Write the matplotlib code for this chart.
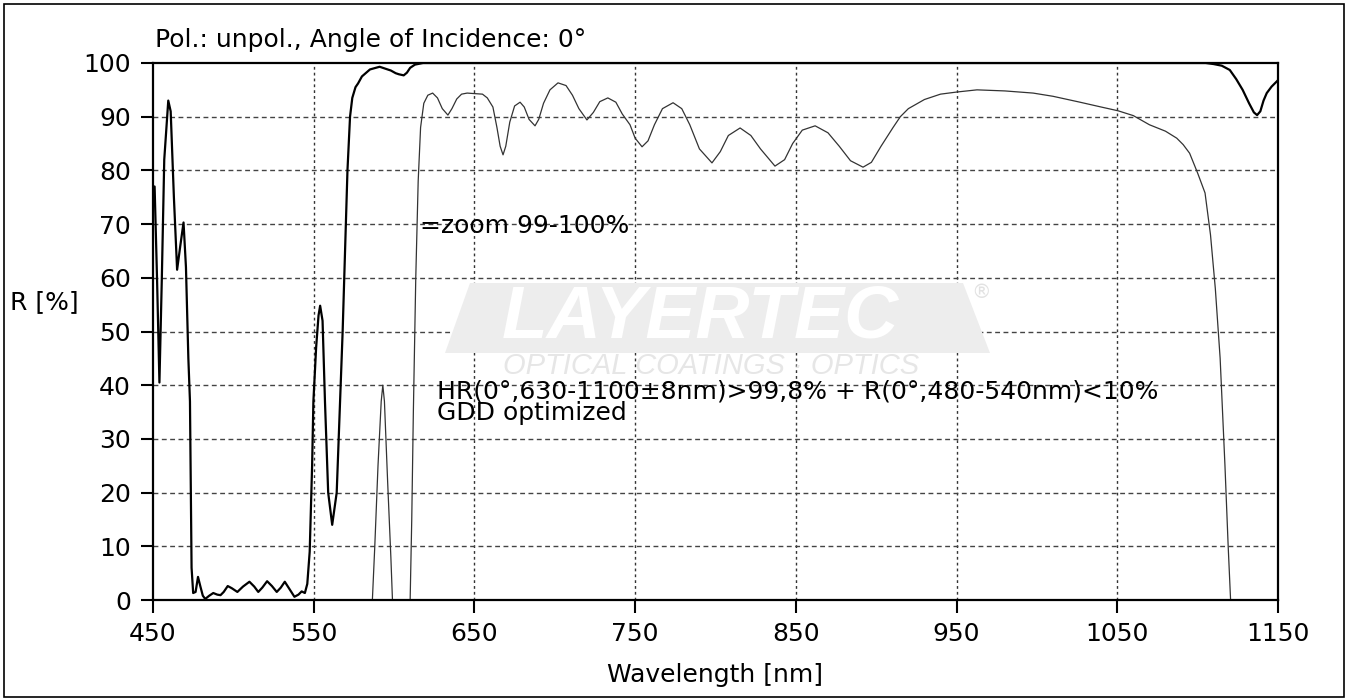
import matplotlib
matplotlib.use("Agg")
import matplotlib.pyplot as plt
from matplotlib.patches import Polygon, Rectangle

# ---------------- data ----------------
wl_main = [450, 451, 452.5, 454, 455.5, 457, 459.5, 461, 463, 465, 467, 469, 470.5, 472, 473, 474, 475,
           476.5, 478, 479.5, 481, 482.5, 485, 487.5, 490, 492, 494, 496.5, 499, 502.5, 506, 510, 513,
           515.5, 518, 521, 524, 527, 529.5, 532, 535, 538, 540.5, 542.5, 544.5, 546, 547.5, 549, 549.8,
           551.5, 553, 554, 555.5, 557, 559, 561.5, 564.3, 566.4, 568, 569.5, 571, 572.6, 574, 576, 577.6,
           580, 585, 591, 596, 598, 601, 603, 606, 608, 610, 613, 618, 1105, 1110, 1115, 1120, 1124, 1128,
           1132, 1135, 1137, 1139, 1141, 1143, 1146, 1150]
r_main = [77, 77, 60, 40.5, 60, 82, 93, 91, 75, 61.5, 66, 70.3, 62, 45, 37, 6, 1.3,
          1.5, 4.3, 2.5, 0.8, 0.2, 0.8, 1.3, 1.0, 0.9, 1.5, 2.6, 2.2, 1.5, 2.5, 3.4, 2.5,
          1.5, 2.3, 3.5, 2.6, 1.5, 2.3, 3.4, 2.0, 0.6, 1.0, 1.6, 1.3, 3.0, 9.0, 25, 37,
          47, 53, 54.8, 52, 37, 20, 14, 20, 37, 50, 65, 80, 90, 93.5, 95.5, 96.2,
          97.5, 98.8, 99.3, 98.8, 98.6, 98.1, 97.9, 97.7, 98.2, 99.1, 99.7, 100, 100, 99.8, 99.5, 98.7, 97, 95,
          92.5, 90.8, 90.3, 91, 93, 94.4, 95.6, 96.8]

wl_zoom = [586.5, 588, 590, 592, 593, 594, 596, 598, 599, 610, 611, 612, 613.5, 615, 616.5, 618.5, 621,
           624, 627, 630, 633.5, 636, 639, 642, 645.5, 650, 655, 658, 661.5, 664, 666, 667.8, 669.5, 672,
           675, 678.4, 681, 684, 687.7, 690, 693, 697, 702, 707, 711, 715, 720, 724, 728, 733, 738, 742,
           746.8, 750, 754.3, 758, 762, 767, 773.6, 779, 784, 790, 797.8, 803, 808, 815.3, 822, 828, 837,
           843, 848, 854, 862, 870, 877, 884, 891.8, 897, 903, 910.5, 915, 920, 930, 940, 950.3, 962.7,
           980, 997.6, 1010, 1026.8, 1040, 1050.5, 1060, 1070, 1080, 1087, 1091, 1095, 1100, 1104.6, 1108,
           1111, 1114, 1117, 1119, 1120.5]
r_zoom = [0, 10, 25, 37, 40, 37, 22, 8, 0, 0, 15, 35, 60, 78, 88, 92.5, 94,
          94.4, 93.5, 91.5, 90.3, 91.5, 93.3, 94.2, 94.4, 94.3, 94.2, 93.5, 91.8, 88, 84.5, 82.9, 84.5, 89,
          92, 92.7, 91.8, 89.5, 88.3, 89.5, 92.5, 95, 96.3, 95.8, 94, 91.5, 89.4, 90.8, 92.8, 93.5, 92.7, 90.5,
          88.5, 86, 84.4, 85.5, 88.5, 91.5, 92.6, 91.5, 88.5, 84, 81.4, 83.5, 86.5, 87.9, 86.5, 84, 80.8,
          82, 85, 87.5, 88.3, 87, 84.5, 81.8, 80.6, 81.5, 84.5, 88, 90, 91.5, 93.2, 94.2, 94.6, 95,
          94.8, 94.4, 93.8, 92.7, 91.8, 91.1, 90.2, 88.5, 87.3, 86, 84.8, 83.2, 79.5, 75.8, 68,
          58, 45, 25, 10, 0]

x_ticks = [450, 550, 650, 750, 850, 950, 1050, 1150]
y_ticks = [0, 10, 20, 30, 40, 50, 60, 70, 80, 90, 100]

title_text = "Pol.: unpol., Angle of Incidence: 0°"
zoom_label = "=zoom 99-100%"
spec_line1 = "HR(0°,630-1100±8nm)>99,8% + R(0°,480-540nm)<10%"
spec_line2 = "GDD optimized"
x_label = "Wavelength [nm]"
y_label = "R [%]"

# ---------------- figure ----------------
W, H = 1348, 700
FS = 18
plt.rcParams['font.family'] = ['DejaVu Sans']
fig = plt.figure(figsize=(W / 100, H / 100), dpi=100)
fig.patch.set_facecolor('white')

def fx(px):
    return px / W

def fy(py):
    return 1 - py / H

ax = fig.add_axes([fx(153), fy(600), fx(1278) - fx(153), fy(63) - fy(600)])
ax.set_xlim(450, 1150)
ax.set_ylim(0, 100)

# watermark
band = Polygon([(fx(445), fy(353)), (fx(470), fy(283)), (fx(963), fy(283)), (fx(990), fy(353))],
               closed=True, transform=fig.transFigure, facecolor='#ededed', edgecolor='none', zorder=0)
fig.patches.append(band)
fig.text(fx(700), fy(318), "LAYERTEC", color='white', fontsize=54, fontweight='bold', fontstyle='italic',
         family='Liberation Sans', ha='center', va='center', zorder=1)
fig.text(fx(981), fy(292), "®", color='#e2e2e2', fontsize=14, ha='center', va='center', zorder=1)
fig.text(fx(711), fy(366), "OPTICAL COATINGS · OPTICS", color='#e6e6e6', fontsize=21, fontstyle='italic',
         family='Liberation Sans', ha='center', va='center', zorder=1)

ax.set_facecolor('none')

# grid
for xv in x_ticks[1:-1]:
    ax.axvline(xv, color='#333333', lw=1.0, ls=(0, (2, 2.2)), zorder=2)
for yv in y_ticks[1:-1]:
    ax.axhline(yv, color='#444444', lw=1.0, ls=(0, (3.5, 2.5)), zorder=2)

ax.plot(wl_zoom, r_zoom, color='#333333', lw=0.9, zorder=3)
ax.plot(wl_main, r_main, color='black', lw=1.6, zorder=4, solid_joinstyle='round')

ax.set_xticks(x_ticks)
ax.set_yticks(y_ticks)
ax.tick_params(direction='out', length=9, width=1.5, labelsize=FS, colors='black')
ax.tick_params(axis='y', pad=7)
ax.tick_params(axis='x', pad=7)
for s in ax.spines.values():
    s.set_linewidth(1.6)
    s.set_zorder(5)

ax.text(616, 69.6, zoom_label, fontsize=FS, ha='left', va='center', zorder=6)
ax.text(626.5, 38.9, spec_line1, fontsize=FS, ha='left', va='center', zorder=6)
ax.text(626.5, 34.8, spec_line2, fontsize=FS, ha='left', va='center', zorder=6)

fig.text(fx(155), fy(40), title_text, fontsize=FS, ha='left', va='center')
fig.text(fx(10), fy(302), y_label, fontsize=FS, ha='left', va='center')
fig.text(fx(715), fy(675), x_label, fontsize=FS, ha='center', va='center')

fig.patches.append(Rectangle((fx(4), fy(697)), fx(1344) - fx(4), fy(4) - fy(697), transform=fig.transFigure,
                             fill=False, edgecolor='black', lw=1.2, zorder=10))

fig.savefig("out.png", dpi=100, facecolor='white')
